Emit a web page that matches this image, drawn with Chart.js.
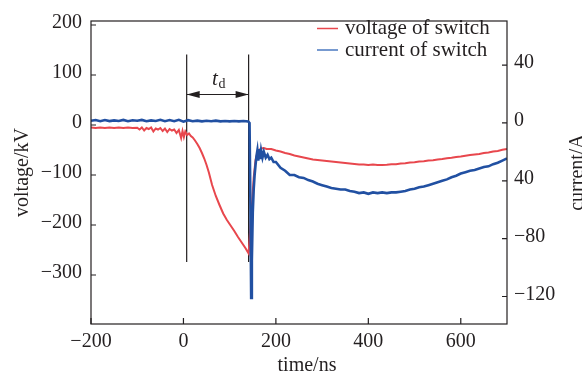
<!DOCTYPE html>
<html>
<head>
  <meta charset="UTF-8">
  <title>Voltage and current of switch</title>
  <script src="https://cdn.jsdelivr.net/npm/chart.js"></script>
  <style>
    html, body { margin: 0; padding: 0; background: #fff; }
    canvas { display: block; }
  </style>
</head>
<body>
  <canvas id="chart" width="582" height="374"></canvas>

  <script>
    // time/ns and voltage/kV of the switch
    const voltTime = [-200,-190,-180,-170,-160,-150,-140,-130,-120,-110,-100,-95,-90,-85,-80,-75,-70,-65,-60,-55,-50,-45,-40,-35,-30,-25,-20,-15,-10,-5,-2,1,4,8,12,16,20,25,30,35,40,45,50,55,62,70,78,86,94,102,110,118,126,134,141,145,149,152,156,160,164,168,174,180,190,200,210,220,230,240,250,260,270,280,290,300,310,320,330,340,350,360,370,380,390,400,410,420,430,440,450,460,470,480,490,500,510,520,530,540,550,560,570,580,590,600,610,620,630,640,650,660,670,680,690,700];
    const voltage = [-5,-6,-5,-6,-5,-6,-5,-6,-5,-6,-5.5,-9,-5,-11,-6,-8,-5,-13,-7,-9,-6,-12,-7,-14,-8,-11,-9,-16,-10,-26,-12,-24,-13,-20,-17,-22,-25,-31,-38,-46,-56,-67,-80,-95,-120,-142,-160,-177,-190,-201,-212,-224,-235,-246,-257,-200,-148,-105,-70,-56,-50,-47,-46,-48,-48,-51,-53,-56,-58,-61,-63,-65,-67,-69,-70,-71,-72,-73,-74,-75,-76,-77,-78,-79,-79,-80,-79,-80,-80,-79.5,-78.5,-78.5,-77,-76.5,-75,-74.5,-73,-72.5,-71,-70.5,-69,-68,-66.5,-65.5,-64,-63,-61.5,-60,-59,-58,-56,-55,-53,-52,-49.5,-48];

    // time/ns and current/A of the switch
    const currTime = [-200,-190,-180,-170,-160,-150,-140,-130,-120,-110,-100,-90,-80,-70,-60,-50,-40,-30,-20,-10,0,10,20,30,40,50,60,70,80,90,100,110,120,130,140,143,145,146.5,148,150,152,154,156,158,160,162,164,166,168,171,174,178,182,186,190,195,200,210,220,230,240,250,260,270,280,290,300,310,320,330,340,350,360,370,380,390,400,410,420,430,440,450,460,470,480,490,500,510,520,530,540,550,560,570,580,590,600,610,620,630,640,650,660,670,680,690,700];
    const current = [1.5,2,1.2,2,1.3,1.8,1.4,2.1,1.2,1.9,1.5,2.1,1.2,1.8,1.4,2.2,1.2,2,1.2,2.2,0.9,1.9,1.2,1.6,1.1,1.5,1.2,1.6,1.1,1.4,1.1,1.4,1.1,1.4,1.1,0,-60,-121,-95,-62,-46,-36,-29,-23,-19,-26,-18,-25,-19,-24,-20,-24,-22,-25,-24,-27,-27,-31,-33,-36,-36,-37.5,-38,-39.5,-40.5,-42,-43,-44,-45,-45.5,-46,-46,-47,-47.5,-48.5,-48,-49,-48,-48.5,-48,-48.5,-48,-48,-47.5,-47,-46,-45.5,-44.5,-44,-43,-42,-41,-40,-39,-37.5,-36.5,-35,-34,-33,-32.5,-31.5,-30.5,-30,-28.5,-27.5,-26,-24.5];

    const timeTicks = [-200, 0, 200, 400, 600];
    const voltTicks = [200, 100, 0, -100, -200, -300];
    const currTicks = [40, 0, -40, -80, -120];
    const currTickText = ['40', '0', '40', '\u221280', '\u2212120'];

    // t_d markers
    const tdTimes = [7, 141];
    const tdSpan = [141, -274];
    const tdArrowVolt = 61;
    const tdLabelAt = [62, 80];

    const FONT = '"Liberation Serif", "Times New Roman", serif';
    const INK = '#231f20';
    const RED = '#e8474d';
    const BLUE = '#2150a2';

    const fmt = v => String(v).replace('-', '\u2212');

    const overlay = {
      id: 'overlay',
      afterDraw(chart) {
        const { ctx, chartArea: a, scales } = chart;
        const x = scales.x, y = scales.y, y2 = scales.y2;
        ctx.save();
        ctx.strokeStyle = INK;
        ctx.lineWidth = 1.2;
        ctx.strokeRect(a.left, a.top, a.right - a.left, a.bottom - a.top);

        // ticks point inwards
        ctx.beginPath();
        x.ticks.forEach(t => {
          const px = x.getPixelForValue(t.value);
          ctx.moveTo(px, a.bottom); ctx.lineTo(px, a.bottom - 6);
        });
        y.ticks.forEach(t => {
          const py = y.getPixelForValue(t.value);
          ctx.moveTo(a.left, py); ctx.lineTo(a.left + 5, py);
        });
        y2.ticks.forEach(t => {
          const py = y2.getPixelForValue(t.value);
          ctx.moveTo(a.right, py); ctx.lineTo(a.right - 5, py);
        });
        ctx.stroke();

        // arrow heads of t_d
        const ay = y.getPixelForValue(tdArrowVolt);
        const x0 = x.getPixelForValue(tdTimes[0]);
        const x1 = x.getPixelForValue(tdTimes[1]);
        ctx.fillStyle = INK;
        ctx.beginPath();
        ctx.moveTo(x0, ay); ctx.lineTo(x0 + 13, ay - 3.5); ctx.lineTo(x0 + 13, ay + 3.5); ctx.closePath();
        ctx.moveTo(x1, ay); ctx.lineTo(x1 - 13, ay - 3.5); ctx.lineTo(x1 - 13, ay + 3.5); ctx.closePath();
        ctx.fill();

        // t_d label
        const lx = x.getPixelForValue(tdLabelAt[0]);
        const ly = y.getPixelForValue(tdLabelAt[1]);
        ctx.textBaseline = 'alphabetic';
        ctx.textAlign = 'left';
        ctx.font = 'italic 21px ' + FONT;
        ctx.fillText('t', lx, ly);
        const tw = ctx.measureText('t').width;
        ctx.font = '14px ' + FONT;
        ctx.fillText('d', lx + tw + 0.5, ly + 3);

        // legend
        ctx.lineWidth = 1.5;
        ctx.strokeStyle = RED;
        ctx.beginPath(); ctx.moveTo(317, 28.5); ctx.lineTo(338, 28.5); ctx.stroke();
        ctx.strokeStyle = '#4a78c0';
        ctx.beginPath(); ctx.moveTo(317, 50); ctx.lineTo(338, 50); ctx.stroke();
        ctx.font = '21px ' + FONT;
        ctx.fillStyle = INK;
        ctx.fillText('voltage of switch', 345, 34);
        ctx.fillText('current of switch', 345, 56);

        // axis titles
        ctx.textAlign = 'center';
        ctx.font = '20px ' + FONT;
        ctx.fillText('time/ns', (a.left + a.right) / 2 + 8, 371);
        const midY = (a.top + a.bottom) / 2;
        ctx.save();
        ctx.translate(28, midY);
        ctx.rotate(-Math.PI / 2);
        ctx.fillText('voltage/kV', 0, 0);
        ctx.restore();
        ctx.save();
        ctx.translate(583, midY);
        ctx.rotate(-Math.PI / 2);
        ctx.fillText('current/A', 0, 0);
        ctx.restore();
        ctx.restore();
      }
    };

    const pts = (ts, vs) => ts.map((t, i) => ({ x: t, y: vs[i] }));
    const tickFont = { family: FONT, size: 20 };
    const noGrid = { display: false, drawTicks: false };

    new Chart(document.getElementById('chart'), {
      type: 'line',
      data: {
        datasets: [
          { label: 'current of switch', data: pts(currTime, current), yAxisID: 'y2',
            borderColor: BLUE, borderWidth: 2.6, pointRadius: 0, tension: 0 },
          { label: 'voltage of switch', data: pts(voltTime, voltage), yAxisID: 'y',
            borderColor: RED, borderWidth: 2, pointRadius: 0, tension: 0 },
          { label: 'td start', data: pts([tdTimes[0], tdTimes[0]], tdSpan), yAxisID: 'y',
            borderColor: INK, borderWidth: 1.2, pointRadius: 0 },
          { label: 'td end', data: pts([tdTimes[1], tdTimes[1]], tdSpan), yAxisID: 'y',
            borderColor: INK, borderWidth: 1.2, pointRadius: 0 },
          { label: 'td arrow', data: pts(tdTimes, [tdArrowVolt, tdArrowVolt]), yAxisID: 'y',
            borderColor: INK, borderWidth: 1.2, pointRadius: 0 }
        ]
      },
      options: {
        responsive: false,
        animation: false,
        layout: { padding: { top: 15 } },
        plugins: { legend: { display: false }, tooltip: { enabled: false } },
        scales: {
          x: {
            type: 'linear', min: -200, max: 700,
            afterBuildTicks: s => { s.ticks = timeTicks.map(v => ({ value: v })); },
            afterFit: s => { s.height = 50; },
            grid: noGrid, border: { display: false },
            ticks: { color: INK, font: tickFont, padding: 6, maxRotation: 0,
              callback: v => fmt(v) }
          },
          y: {
            position: 'left', min: -398, max: 208,
            afterBuildTicks: s => { s.ticks = voltTicks.map(v => ({ value: v })); },
            afterFit: s => { s.width = 91; },
            grid: noGrid, border: { display: false },
            ticks: { color: INK, font: tickFont, padding: 9, labelOffset: -2,
              callback: v => fmt(v) }
          },
          y2: {
            position: 'right', min: -139, max: 70.5,
            afterBuildTicks: s => { s.ticks = currTicks.map(v => ({ value: v })); },
            afterFit: s => { s.width = 75; },
            grid: noGrid, border: { display: false },
            ticks: { color: INK, font: tickFont, padding: 7, labelOffset: -2,
              callback: v => currTickText[currTicks.indexOf(v)] }
          }
        }
      },
      plugins: [overlay]
    });
  </script>
</body>
</html>
